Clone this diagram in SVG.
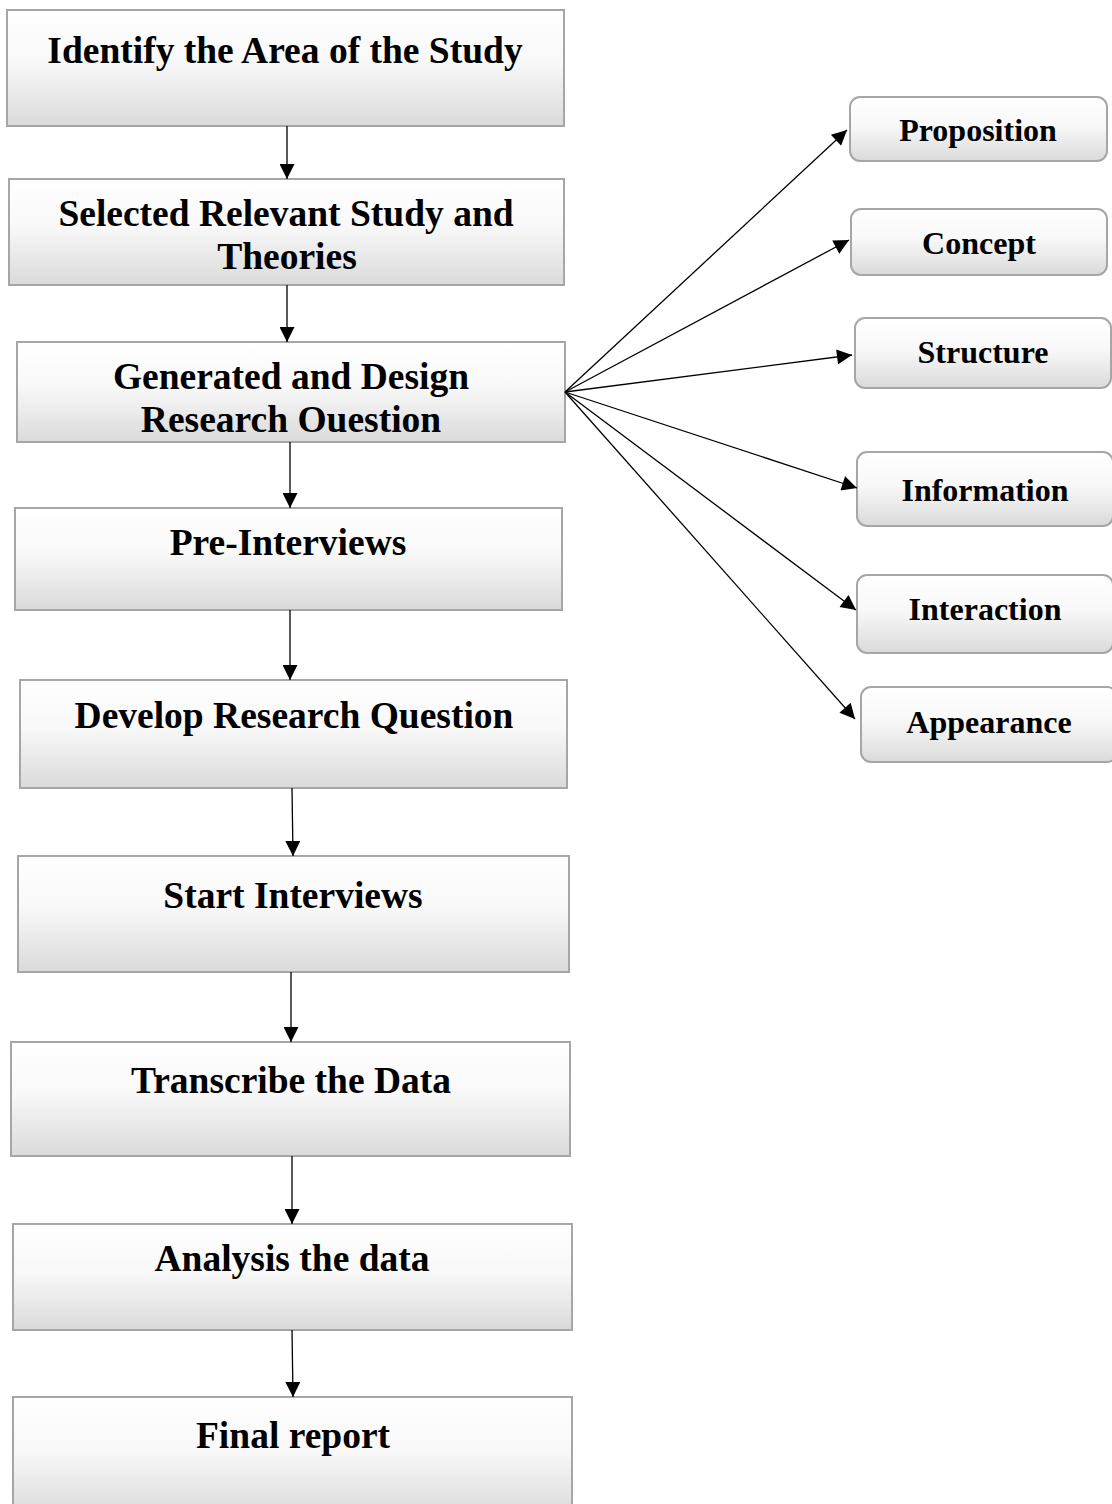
<svg xmlns="http://www.w3.org/2000/svg" width="1112" height="1504" viewBox="0 0 1112 1504">
<defs>
<linearGradient id="g" x1="0" y1="0" x2="0" y2="1">
<stop offset="0" stop-color="#ffffff"/>
<stop offset="0.45" stop-color="#f8f8f8"/>
<stop offset="1" stop-color="#dadada"/>
</linearGradient>
<marker id="ah" viewBox="0 0 10 10" refX="10" refY="5" markerWidth="18" markerHeight="15" markerUnits="userSpaceOnUse" orient="auto">
<path d="M0,0 L10,5 L0,10 z" fill="#000"/>
</marker>
</defs>
<style>
.box{fill:url(#g);stroke:#a6a6a6;stroke-width:2}
.t{font-family:"Liberation Serif","Times New Roman",serif;font-weight:bold;fill:#000;text-anchor:middle}
.big{font-size:37.5px}
.small{font-size:32px}
.c{stroke:#000;stroke-width:1.3;fill:none;marker-end:url(#ah)}
</style>
<rect width="1112" height="1504" fill="#fff"/>
<g id="n1"><rect class="box" x="7" y="10" width="557" height="116"/><text class="t big" x="285" y="63">Identify the Area of the Study</text></g>
<g id="n2"><rect class="box" x="9" y="179" width="555" height="106"/><text class="t big" x="286" y="226">Selected Relevant Study and</text><text class="t big" x="287" y="269">Theories</text></g>
<g id="n3"><rect class="box" x="17" y="342" width="548" height="100"/><text class="t big" x="291" y="389">Generated and Design</text><text class="t big" x="291" y="432">Research Ouestion</text></g>
<g id="n4"><rect class="box" x="15" y="508" width="547" height="102"/><text class="t big" x="288" y="555">Pre-Interviews</text></g>
<g id="n5"><rect class="box" x="20" y="680" width="547" height="108"/><text class="t big" x="294" y="728">Develop Research Question</text></g>
<g id="n6"><rect class="box" x="18" y="856" width="551" height="116"/><text class="t big" x="293" y="908">Start Interviews</text></g>
<g id="n7"><rect class="box" x="11" y="1042" width="559" height="114"/><text class="t big" x="291" y="1093">Transcribe the Data</text></g>
<g id="n8"><rect class="box" x="13" y="1224" width="559" height="106"/><text class="t big" x="292" y="1271">Analysis the data</text></g>
<g id="n9"><rect class="box" x="13" y="1397" width="559" height="120"/><text class="t big" x="293" y="1448">Final report</text></g>
<g id="r1"><rect class="box" x="850" y="97" width="257" height="64" rx="10"/><text class="t small" x="978" y="141">Proposition</text></g>
<g id="r2"><rect class="box" x="851" y="209" width="256" height="66" rx="10"/><text class="t small" x="979" y="254">Concept</text></g>
<g id="r3"><rect class="box" x="855" y="318" width="256" height="70" rx="10"/><text class="t small" x="983" y="363">Structure</text></g>
<g id="r4"><rect class="box" x="857" y="452" width="256" height="74" rx="10"/><text class="t small" x="985" y="501">Information</text></g>
<g id="r5"><rect class="box" x="857" y="575" width="256" height="78" rx="10"/><text class="t small" x="985" y="620">Interaction</text></g>
<g id="r6"><rect class="box" x="861" y="687" width="256" height="75" rx="10"/><text class="t small" x="989" y="733">Appearance</text></g>
<g id="connectors">
<line class="c" x1="287" y1="126" x2="287" y2="179"/>
<line class="c" x1="287" y1="285" x2="287" y2="342"/>
<line class="c" x1="290" y1="442" x2="290" y2="508"/>
<line class="c" x1="290" y1="610" x2="290" y2="680"/>
<line class="c" x1="292" y1="788" x2="293" y2="856"/>
<line class="c" x1="291" y1="972" x2="291" y2="1042"/>
<line class="c" x1="292" y1="1156" x2="292" y2="1224"/>
<line class="c" x1="292" y1="1330" x2="293" y2="1397"/>
<line class="c" x1="565" y1="392" x2="847" y2="130"/>
<line class="c" x1="565" y1="392" x2="849" y2="240"/>
<line class="c" x1="565" y1="392" x2="852" y2="355"/>
<line class="c" x1="565" y1="392" x2="857" y2="488"/>
<line class="c" x1="565" y1="392" x2="856" y2="610"/>
<line class="c" x1="565" y1="392" x2="855" y2="719"/>
</g>
</svg>
